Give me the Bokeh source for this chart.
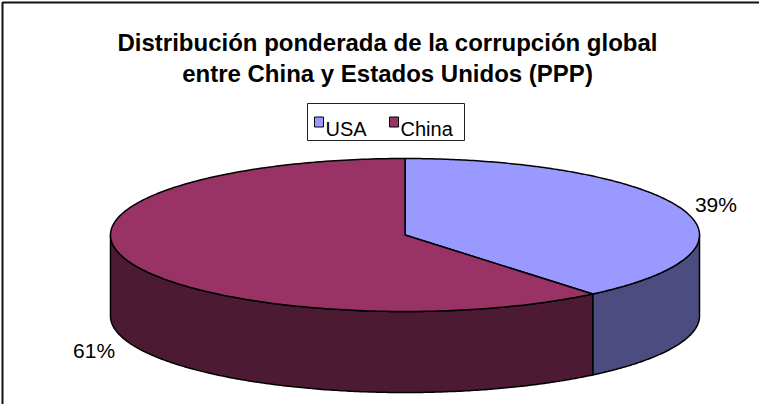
import numpy as np
from bokeh.plotting import figure
from bokeh.models import Range1d
from bokeh.core.properties import value
from bokeh.embed import file_html
from bokeh.resources import INLINE

# ---- data ----
categories = ["USA", "China"]
shares = [39, 61]
labels = ["39%", "61%"]
colors_top = ["#9999FF", "#993366"]
colors_side = ["#4C4C80", "#4D1A33"]
title_lines = ["Distribución ponderada de la corrupción global",
               "entre China y Estados Unidos (PPP)"]

FONT = value("Liberation Sans")

# ---- figure in screen-pixel coordinates (y down) ----
p = figure(width=759, height=404, output_backend="svg", toolbar_location=None,
           x_range=Range1d(8, 767), y_range=Range1d(412, 8),
           min_border=0, min_border_left=0, min_border_right=0,
           min_border_top=0, min_border_bottom=0)
p.axis.visible = False
p.grid.visible = False
p.outline_line_color = None
p.background_fill_color = "white"
p.border_fill_color = "white"

# chart frame (extends beyond window at right / bottom)
p.line([10, 10, 800], [430, 10, 10], line_color="#111111", line_width=2)

# ---- 3D pie geometry ----
CX, CY, RX, RY, DEPTH = 412.5, 242.5, 294.5, 76.5, 81.0
total = float(sum(shares))
bounds = np.concatenate([[0.0], np.cumsum(shares) / total * 2 * np.pi])

def arc(t0, t1, dy=0.0, n=240):
    t = np.linspace(t0, t1, n)
    return CX + RX * np.sin(t), CY - RY * np.cos(t) + dy

# side walls (front half only)
side_xs, side_ys, side_cols = [], [], []
for i in range(len(shares)):
    lo = max(bounds[i], np.pi / 2)
    hi = min(bounds[i + 1], 3 * np.pi / 2)
    if hi > lo:
        tx, ty = arc(lo, hi)
        bx, by = arc(lo, hi, DEPTH)
        side_xs.append(list(tx) + list(bx[::-1]))
        side_ys.append(list(ty) + list(by[::-1]))
        side_cols.append(colors_side[i])
p.patches(side_xs, side_ys, fill_color=side_cols, line_color="black",
          line_width=1.5, line_join="round")

# top faces
top_xs, top_ys = [], []
for i in range(len(shares)):
    ax_, ay_ = arc(bounds[i], bounds[i + 1])
    top_xs.append([CX] + list(ax_))
    top_ys.append([CY] + list(ay_))
p.patches(top_xs, top_ys, fill_color=colors_top, line_color="black",
          line_width=1.5, line_join="round")

# percentage labels
lx, ly = [], []
for i in range(len(shares)):
    tm = (bounds[i] + bounds[i + 1]) / 2
    x = CX + (RX + 36) * np.sin(tm)
    y = CY - (RY + 15) * np.cos(tm)
    if np.cos(tm) < 0:
        y += DEPTH + 4
    lx.append(x)
    ly.append(y)
p.text(lx, ly, text=labels, text_font=FONT, text_font_size="21px",
       text_align="center", text_baseline="middle", text_color="black")

# ---- title ----
p.text([395, 395], [50, 81], text=title_lines, text_font=FONT,
       text_font_size="24px", text_font_style="bold", text_align="center",
       text_baseline="alphabetic", text_color="black")

# ---- legend ----
p.quad(left=[315], right=[472], top=[111], bottom=[148], fill_color="white",
       line_color="#222222", line_width=1)
sq_x = [326.5, 401.5]
txt_x = [333, 408]
p.rect(sq_x, [129.5, 129.5], width=9, height=10, fill_color=colors_top,
       line_color="black", line_width=1)
p.text(txt_x, [136.5, 136.5], text=categories, text_font=FONT,
       text_font_size="20px", text_align="left", text_baseline="alphabetic",
       text_color="black")

open("out.html", "w").write(file_html(p, INLINE))
